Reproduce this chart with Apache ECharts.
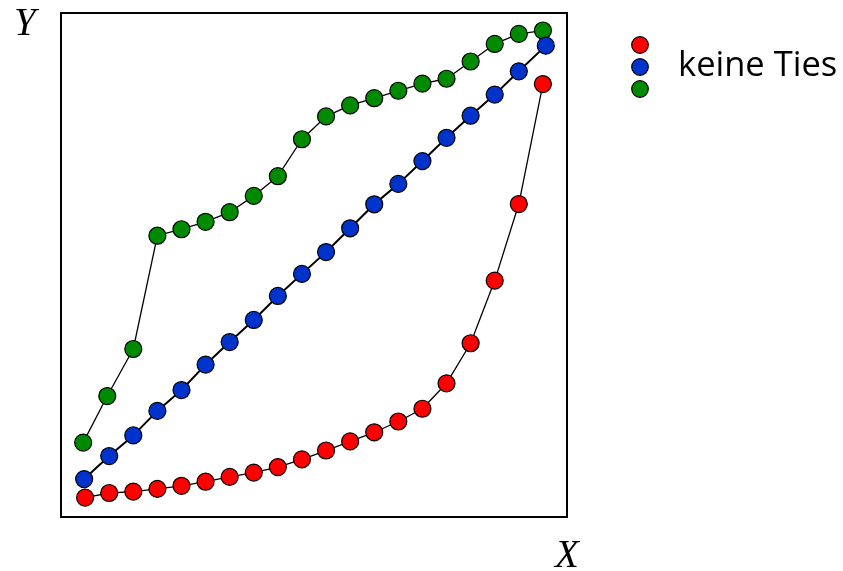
<!DOCTYPE html>
<html>
<head>
<meta charset="utf-8">
<script src="https://cdn.jsdelivr.net/npm/echarts@6/dist/echarts.min.js"></script>
<style>html,body{margin:0;padding:0;background:#fff;}#c{width:843px;height:571px;}</style>
</head>
<body>
<div id="c"></div>
<script>
// X positions (ranks)
const redX   = [1,2,3,4,5,6,7,8,9,10,11,12,13,14,15,16,17,18,19,20];
const blueX  = [0.96,2,3,4,5,6,7,8,9,10,11,12,13,14,15,16,17,18,19,20.12];
const greenX = [0.92,1.92,3,4,5,6,7,8,9,10,11,12,13,14,15,16,17,18,19,20];
// Y values
const redY   = [0.81,1.00,1.06,1.17,1.30,1.47,1.67,1.85,2.08,2.40,2.77,3.15,3.53,3.98,4.51,5.57,7.24,9.85,13.04,18.04];
const blueY  = [1.58,2.54,3.40,4.42,5.29,6.35,7.29,8.21,9.21,10.13,11.04,12.03,13.03,13.88,14.83,15.80,16.72,17.60,18.57,19.64];
const greenY = [3.10,5.04,7.00,11.72,11.99,12.30,12.70,13.38,14.20,15.74,16.69,17.15,17.45,17.76,18.06,18.26,18.98,19.71,20.13,20.27];
const legendLabel = 'keine Ties';
const colors = {red:'#ff0000', blue:'#0033cc', green:'#008a00'};

function pts(xs, ys){ return xs.map((x,i)=>[x, ys[i]]); }
function mk(name, xs, ys, color, lw){
  return {
    name, type:'line', data: pts(xs, ys),
    symbol:'circle', symbolSize:17,
    itemStyle:{color:color, borderColor:'#000', borderWidth:1.2},
    lineStyle:{color:'#000', width:lw},
    animation:false, z:2
  };
}
const chart = echarts.init(document.getElementById('c'), null, {renderer:'canvas'});
chart.setOption({
  animation:false,
  grid:{left:61, top:13, width:506, height:504, show:true, borderColor:'#000', borderWidth:2, backgroundColor:'transparent'},
  xAxis:{type:'value', min:0, max:21, axisLine:{show:false}, axisTick:{show:false}, axisLabel:{show:false}, splitLine:{show:false}},
  yAxis:{type:'value', min:0, max:21, axisLine:{show:false}, axisTick:{show:false}, axisLabel:{show:false}, splitLine:{show:false}},
  series:[
    mk('green', greenX, greenY, colors.green, 1.3),
    mk('blue', blueX, blueY, colors.blue, 2),
    mk('red', redX, redY, colors.red, 1.3)
  ],
  graphic:[
    {type:'text', left:14, top:5, style:{text:'Y', font:'italic 39px "Liberation Serif"', fill:'#000'}},
    {type:'text', left:555, top:537, style:{text:'X', font:'italic 39px "Liberation Serif"', fill:'#000'}},
    {type:'circle', shape:{cx:640, cy:45, r:8.3}, style:{fill:colors.red, stroke:'#000', lineWidth:1.2}},
    {type:'circle', shape:{cx:640, cy:67, r:8.3}, style:{fill:colors.blue, stroke:'#000', lineWidth:1.2}},
    {type:'circle', shape:{cx:640, cy:89, r:8.3}, style:{fill:colors.green, stroke:'#000', lineWidth:1.2}},
    {type:'text', x:678, y:66, style:{text:legendLabel, font:'34.5px "Open Sans"', fill:'#000', verticalAlign:'middle', align:'left'}}
  ]
});
</script>
</body>
</html>
